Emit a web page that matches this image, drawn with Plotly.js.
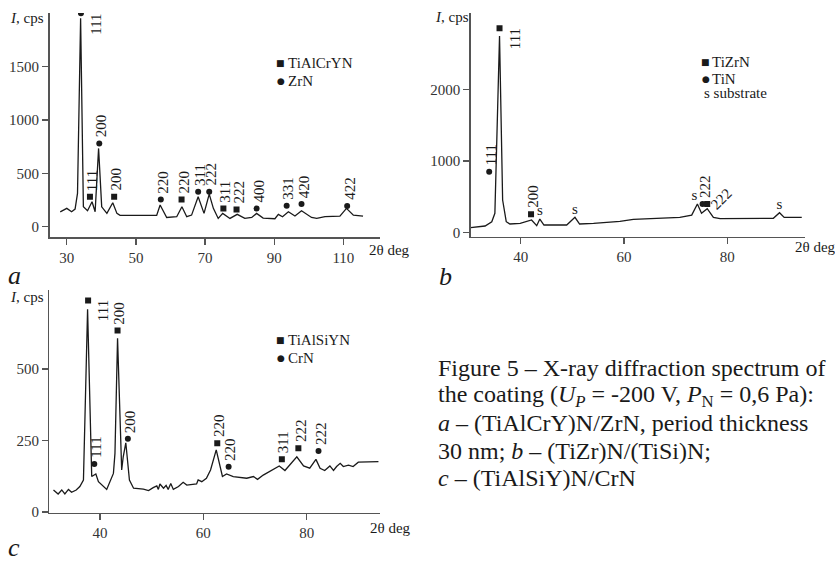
<!DOCTYPE html>
<html><head><meta charset="utf-8">
<script src="https://cdn.plot.ly/plotly-3.0.1.min.js"></script>
<style>html,body{margin:0;padding:0;background:#fff;} #chart{width:835px;height:563px;}</style>
</head><body><div id="chart"></div>
<script>
// ---------- Panel a: (TiAlCrY)N/ZrN ----------
const a_deg = [28.1,30.0,31.4,32.4,33.1,34.0,34.8,36.0,37.3,38.2,39.2,40.1,41.6,43.3,44.5,45.4,56.0,57.0,58.9,61.8,63.3,64.7,66.1,68.0,69.7,71.2,72.4,73.8,75.1,77.2,79.3,81.5,83.5,84.9,86.8,90.2,91.2,92.4,94.1,96.0,97.9,100.8,102.3,104.7,109.0,110.9,112.9,115.7];
const a_cps = [140,172,140,165,312,1953,187,150,234,140,734,187,125,225,125,106,106,203,87,94,187,94,109,281,125,306,172,78,125,78,116,78,87,125,81,75,116,94,140,100,150,87,78,94,100,172,109,100];
const a_tialcryn_deg = [36.7,43.7,63.2,75.3,79.1];
const a_tialcryn_cps = [281,281,256,172,162];
const a_tialcryn_hkl = ['111','200','220','311','222'];
const a_zrn_deg = [34.1,39.4,57.2,68.0,71.2,84.9,93.6,97.9,111.1];
const a_zrn_cps = [2000,781,256,328,328,172,197,212,194];
const a_zrn_hkl = ['111','200','220','311','222','400','331','420','422'];
const a_xticks = [30,50,70,90,110];
const a_yticks = [0,500,1000,1500];

// ---------- Panel b: (TiZr)N/(TiSi)N ----------
const b_deg = [30.3,33.1,34.4,35.0,35.9,36.5,37.2,37.9,39.9,42.1,43.1,43.7,44.5,48.9,50.5,51.4,54.1,59.2,61.8,65.7,70.8,73.1,74.2,75.0,76.1,77.3,78.6,88.9,90.1,91.0,94.4];
const b_cps = [70,93,153,270,2744,456,153,121,130,177,98,190,107,107,214,121,130,158,186,200,214,246,400,270,335,214,195,200,279,214,214];
const b_tizrn_deg = [35.9,42.0,76.1];
const b_tizrn_cps = [2851,256,400];
const b_tizrn_hkl = ['111','200','222'];
const b_tin_deg = [33.9,75.2];
const b_tin_cps = [851,400];
const b_tin_hkl = ['111','222'];
const b_sub_deg = [43.7,50.5,74.2,90.1];
const b_sub_cps = [190,214,400,279];
const b_xticks = [40,60,80];
const b_yticks = [0,1000,2000];

// ---------- Panel c: (TiAlSiY)N/CrN ----------
const c_deg = [31.0,31.9,32.6,33.2,33.9,34.5,35.4,36.1,36.8,37.6,38.4,39.2,39.7,41.3,42.6,42.9,43.4,44.2,44.5,45.0,45.7,46.5,48.4,49.4,50.3,51.0,51.3,51.6,52.3,52.8,53.2,53.7,54.2,55.2,56.1,56.8,58.7,59.0,59.7,60.6,61.4,62.5,63.7,64.5,65.8,68.4,69.7,70.5,71.6,73.5,74.7,75.8,78.1,79.4,80.6,81.8,82.6,83.5,84.5,85.2,85.8,86.5,87.1,88.1,89.0,90.0,93.9];
const c_cps = [77,63,77,63,79,69,77,89,112,709,124,133,106,79,135,205,607,147,193,242,112,83,80,75,85,91,79,98,83,93,79,100,79,89,104,94,98,112,106,118,147,217,124,133,124,118,124,114,129,147,161,145,193,161,153,184,153,145,161,145,159,170,159,164,159,174,176];
const c_tialsiyn_deg = [37.7,43.4,62.7,75.2,78.4];
const c_tialsiyn_cps = [739,634,240,184,223];
const c_tialsiyn_hkl = ['111','200','220','311','222'];
const c_crn_deg = [38.9,45.4,64.9,82.3];
const c_crn_cps = [168,256,158,213];
const c_crn_hkl = ['111','200','220','222'];
const c_xticks = [40,60,80];
const c_yticks = [0,250,500];

// ---------- text ----------
const caption = [
  'Figure 5 – X-ray diffraction spectrum of',
  'the coating (<i>U<sub>P</sub></i> = -200 V, <i>P</i><sub>N</sub> = 0,6 Pa):',
  '<i>a</i> – (TiAlCrY)N/ZrN, period thickness',
  '30 nm; <i>b</i> – (TiZr)N/(TiSi)N;',
  '<i>c</i> – (TiAlSiY)N/CrN'
];

// ---------- layout helpers ----------
const W = 835, H = 563;
const px = v => v / W, py = v => 1 - v / H;
const FONT = 'Liberation Serif';
const INK = '#1a1a1a';

function lineTrace(x, y, xa, ya) {
  return {x, y, xaxis: xa, yaxis: ya, type: 'scatter', mode: 'lines',
          line: {color: INK, width: 1.3, shape: 'linear'}, hoverinfo: 'skip'};
}
function markTrace(x, y, xa, ya, symbol) {
  return {x, y, xaxis: xa, yaxis: ya, type: 'scatter', mode: 'markers',
          marker: {symbol, size: 6, color: INK, line: {width: 0}}, hoverinfo: 'skip'};
}
const PLACE = {
  up:    {textangle: -90, xanchor: 'center', yanchor: 'bottom', xshift: 2, yshift: 4},
  right: {textangle: -90, xanchor: 'left', yanchor: 'top', xshift: 5, yshift: 2},
  diag:  {textangle: -45, xanchor: 'center', yanchor: 'middle', xshift: 14, yshift: 5}
};
function hklLabels(xs, ys, texts, places, xr, yr) {
  return xs.map((x, i) => Object.assign({
    x, y: ys[i], xref: xr, yref: yr, text: texts[i], showarrow: false,
    font: {family: FONT, size: 15, color: INK}
  }, PLACE[places[i]]));
}
function txt(text, x, y, size, anchor, opts) {
  return Object.assign({text, x: px(x), y: py(y), xref: 'paper', yref: 'paper',
    xanchor: anchor || 'left', yanchor: 'middle', showarrow: false,
    font: {family: FONT, size: size, color: INK}}, opts || {});
}
function sym(ch, x, y) {
  return {text: ch, x: px(x), y: py(y), xref: 'paper', yref: 'paper', xanchor: 'center',
    yanchor: 'middle', showarrow: false, font: {family: 'DejaVu Sans', size: 9, color: INK}};
}
function axis(domain, range, ticks, anchor) {
  return {domain, range, anchor, tickmode: 'array', tickvals: ticks, ticktext: ticks.map(String),
    ticks: 'outside', ticklen: 6, tickwidth: 1.2, tickcolor: '#555',
    showline: true, linecolor: '#555', linewidth: 1.4, showgrid: false, zeroline: false,
    tickfont: {family: FONT, size: 15, color: '#333'}, fixedrange: true};
}

const traces = [
  lineTrace(a_deg, a_cps, 'x', 'y'),
  markTrace(a_tialcryn_deg, a_tialcryn_cps, 'x', 'y', 'square'),
  markTrace(a_zrn_deg, a_zrn_cps, 'x', 'y', 'circle'),
  lineTrace(b_deg, b_cps, 'x2', 'y2'),
  markTrace(b_tizrn_deg, b_tizrn_cps, 'x2', 'y2', 'square'),
  markTrace(b_tin_deg, b_tin_cps, 'x2', 'y2', 'circle'),
  {x: b_sub_deg, y: b_sub_cps, xaxis: 'x2', yaxis: 'y2', type: 'scatter', mode: 'text',
   text: b_sub_deg.map(() => 's'), textposition: ['top center','top center','top left','top center'],
   textfont: {family: FONT, size: 15, color: INK}, hoverinfo: 'skip'},
  lineTrace(c_deg, c_cps, 'x3', 'y3'),
  markTrace(c_tialsiyn_deg, c_tialsiyn_cps, 'x3', 'y3', 'square'),
  markTrace(c_crn_deg, c_crn_cps, 'x3', 'y3', 'circle')
];

let ann = [];
ann = ann.concat(hklLabels(a_tialcryn_deg, a_tialcryn_cps, a_tialcryn_hkl, ['up','up','up','up','up'], 'x', 'y'));
ann = ann.concat(hklLabels(a_zrn_deg, a_zrn_cps, a_zrn_hkl, ['right','up','up','up','up','up','up','up','up'], 'x', 'y'));
ann = ann.concat(hklLabels(b_tizrn_deg, b_tizrn_cps, b_tizrn_hkl, ['right','up','diag'], 'x2', 'y2'));
ann = ann.concat(hklLabels(b_tin_deg, b_tin_cps, b_tin_hkl, ['up','up'], 'x2', 'y2'));
ann = ann.concat(hklLabels(c_tialsiyn_deg, c_tialsiyn_cps, c_tialsiyn_hkl, ['right','up','up','up','up'], 'x3', 'y3'));
ann = ann.concat(hklLabels(c_crn_deg, c_crn_cps, c_crn_hkl, ['up','up','up','up'], 'x3', 'y3'));

// axis titles
ann.push(txt('<i>I</i>, cps', 8, 18, 15));
ann.push(txt('<i>I</i>, cps', 433, 17, 15));
ann.push(txt('<i>I</i>, cps', 8, 297, 15));
ann.push(txt('2θ deg', 367, 250, 15));
ann.push(txt('2θ deg', 793, 247, 15));
ann.push(txt('2θ deg', 368, 528, 15));
// panel letters
ann.push(txt('<i>a</i>', 6, 275, 26));
ann.push(txt('<i>b</i>', 437, 277, 26));
ann.push(txt('<i>c</i>', 6, 547, 26));
// legends
ann.push(sym('■', 280.5, 63)); ann.push(txt('TiAlCrYN', 286, 63, 15));
ann.push(sym('●', 280.5, 81)); ann.push(txt('ZrN', 286, 81, 15));
ann.push(sym('■', 705.5, 62)); ann.push(txt('TiZrN', 710, 62, 15));
ann.push(sym('●', 705.5, 79)); ann.push(txt('TiN', 710, 79, 15));
ann.push(txt('s substrate', 702, 93, 15));
ann.push(sym('■', 280.5, 340)); ann.push(txt('TiAlSiYN', 286, 340, 15));
ann.push(sym('●', 280.5, 358)); ann.push(txt('CrN', 286, 358, 15));
// caption
const capY = [368, 395.5, 423, 450.5, 478];
caption.forEach((t, i) => ann.push(txt(t, 436, capY[i], 24)));

const layout = {
  width: W, height: H, margin: {l: 0, r: 0, t: 0, b: 0, pad: 0},
  paper_bgcolor: '#fff', plot_bgcolor: 'rgba(0,0,0,0)', showlegend: false,
  font: {family: FONT, size: 15, color: INK},
  xaxis:  axis([px(49.5), px(380)], [25.0, 120.6], a_xticks, 'y'),
  yaxis:  axis([py(237.3), py(13)], [-99, 2003], a_yticks, 'x'),
  xaxis2: axis([px(470.7), px(805)], [30.32, 95.03], b_xticks, 'y2'),
  yaxis2: axis([py(236.7), py(13.3)], [-56, 3060], b_yticks, 'x2'),
  xaxis3: axis([px(49.3), px(380)], [30.19, 94.2], c_xticks, 'y3'),
  yaxis3: axis([py(513), py(290)], [-3.5, 776], c_yticks, 'x3'),
  annotations: ann
};

Plotly.newPlot('chart', traces, layout, {staticPlot: true, displayModeBar: false});
</script></body></html>
